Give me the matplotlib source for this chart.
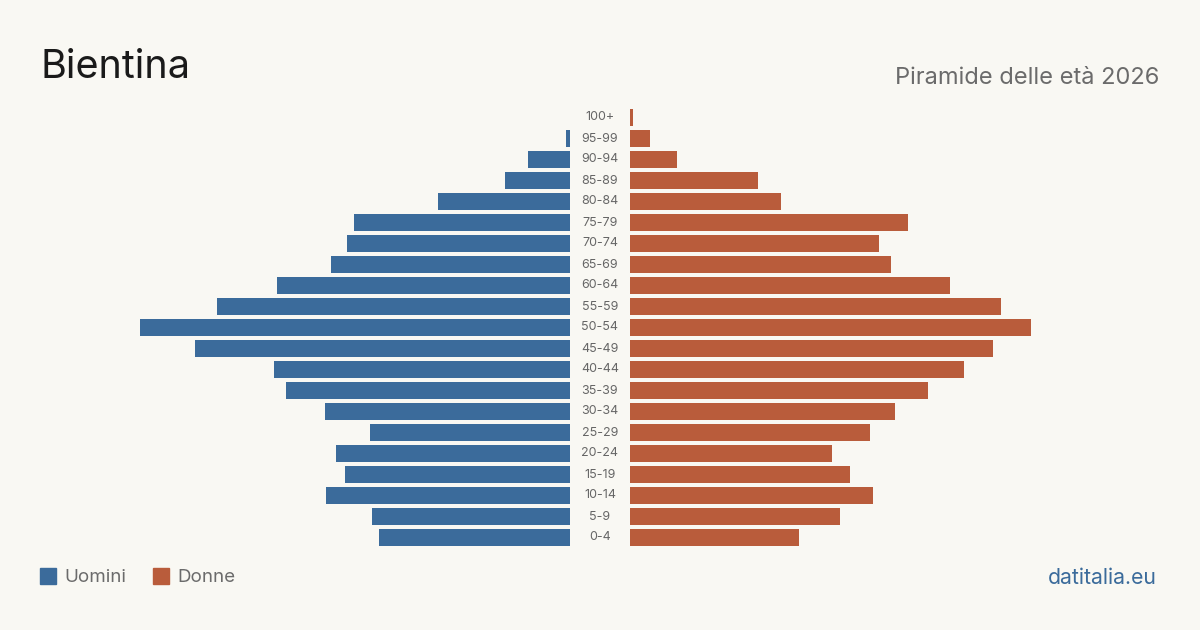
import matplotlib.pyplot as plt
import numpy as np

plt.rcParams['font.family'] = ['Inter', 'DejaVu Sans']

ages = ['0-4', '5-9', '10-14', '15-19', '20-24', '25-29', '30-34', '35-39',
        '40-44', '45-49', '50-54', '55-59', '60-64', '65-69', '70-74',
        '75-79', '80-84', '85-89', '90-94', '95-99', '100+']
uomini = [191, 198, 244, 225, 234, 200, 245, 284, 296, 375, 430, 353,
          293, 239, 223, 216, 132, 65, 42, 4, 0]
donne = [169, 210, 243, 220, 202, 240, 265, 298, 334, 363, 401, 371,
         320, 261, 249, 278, 151, 128, 47, 20, 3]

BG = '#f9f8f3'
BLUE = '#3b6b9b'
RED = '#b95c3b'

W, H = 1200, 630
fig = plt.figure(figsize=(12, 6.3), dpi=100, facecolor=BG)

# axes placed in pixel coordinates, 1 data unit = 1 px
top, bottom = 107, 548
axl = fig.add_axes([130 / W, 1 - bottom / H, 440 / W, (bottom - top) / H])
axr = fig.add_axes([630 / W, 1 - bottom / H, 440 / W, (bottom - top) / H])

y = np.arange(len(ages))
axl.barh(y, uomini, height=0.8, color=BLUE)
axr.barh(y, donne, height=0.8, color=RED)
axl.set_xlim(440, 0)
axr.set_xlim(0, 440)
for ax in (axl, axr):
    ax.set_ylim(-0.5, len(ages) - 0.5)
    ax.axis('off')

for i, a in enumerate(ages):
    axr.text(-30, i, a, ha='center', va='center', fontsize=9, color='#666666')

fig.text(40 / W, 1 - 68 / H, 'Bientina', fontsize=28.5, color='#1a1a1a',
         va='center', ha='left')
fig.text(1159 / W, 1 - 78 / H, 'Piramide delle età 2026', fontsize=17,
         color='#6b6b6b', va='center', ha='right')

# legend
fig.patches.append(plt.Rectangle((40 / W, 1 - 584 / H), 16 / W, 16 / H,
                                  transform=fig.transFigure, color=BLUE))
fig.text(64 / W, 1 - 578 / H, 'Uomini', fontsize=13.5, color='#6b6b6b',
         va='center', ha='left')
fig.patches.append(plt.Rectangle((153 / W, 1 - 584 / H), 16 / W, 16 / H,
                                  transform=fig.transFigure, color=RED))
fig.text(177 / W, 1 - 578 / H, 'Donne', fontsize=13.5, color='#6b6b6b',
         va='center', ha='left')
fig.text(1157 / W, 1 - 578 / H, 'datitalia.eu', fontsize=15.3, color=BLUE,
         va='center', ha='right')

fig.savefig('out.png', dpi=100, facecolor=BG)
